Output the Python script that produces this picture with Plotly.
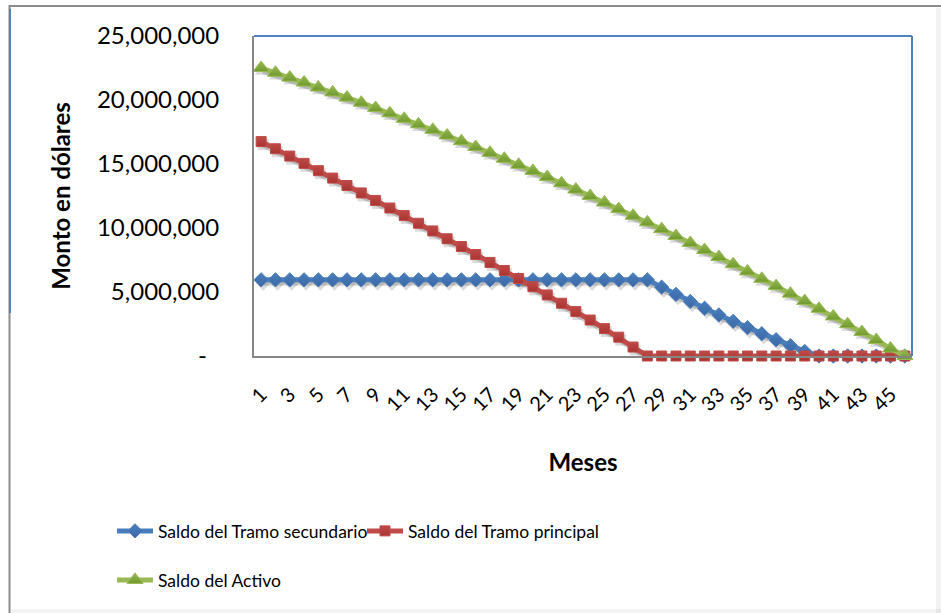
import plotly.graph_objects as go

# Saldos mensuales en millones de dólares
meses = list(range(1, 47))

tramo_secundario = [
    5.95, 5.95, 5.95, 5.95, 5.95, 5.95, 5.95, 5.95, 5.95, 5.95,
    5.95, 5.95, 5.95, 5.95, 5.95, 5.95, 5.95, 5.95, 5.95, 5.95,
    5.95, 5.95, 5.95, 5.95, 5.95, 5.95, 5.95, 5.95, 5.38, 4.81,
    4.26, 3.73, 3.21, 2.71, 2.22, 1.74, 1.27, 0.81, 0.36, 0.00,
    0.00, 0.00, 0.00, 0.00, 0.00, 0.00,
]
tramo_principal = [
    16.75, 16.19, 15.62, 15.05, 14.48, 13.90, 13.32, 12.74, 12.15, 11.56,
    10.97, 10.37, 9.77, 9.16, 8.55, 7.93, 7.31, 6.68, 6.05, 5.41,
    4.77, 4.12, 3.47, 2.81, 2.14, 1.47, 0.70, 0.00, 0.00, 0.00,
    0.00, 0.00, 0.00, 0.00, 0.00, 0.00, 0.00, 0.00, 0.00, 0.00,
    0.00, 0.00, 0.00, 0.00, 0.00, 0.00,
]
activo = [
    22.50, 22.13, 21.75, 21.37, 20.98, 20.59, 20.19, 19.79, 19.37, 18.96,
    18.53, 18.10, 17.67, 17.23, 16.78, 16.33, 15.87, 15.41, 14.94, 14.46,
    13.98, 13.49, 13.00, 12.50, 11.99, 11.48, 10.96, 10.44, 9.91, 9.37,
    8.83, 8.28, 7.73, 7.17, 6.61, 6.03, 5.46, 4.87, 4.29, 3.69,
    3.09, 2.48, 1.87, 1.25, 0.58, 0.00,
]

MILLON = 1_000_000
tick_meses = meses[::2]
tick_montos = [0, 5, 10, 15, 20, 25]
tick_montos_txt = ["-\u00a0\u00a0", "5,000,000", "10,000,000", "15,000,000",
                   "20,000,000", "25,000,000"]

series = [
    ("Saldo del Tramo secundario", tramo_secundario, "#4A7EBB", "diamond", 11, "#3A68A6", "legend"),
    ("Saldo del Tramo principal", tramo_principal, "#BE4B48", "square", 10, "#A93431", "legend"),
    ("Saldo del Activo", activo, "#98B954", "triangle-up", 14, "#6F9A2C", "legend2"),
]

# Figure geometry (pixels)
W, H = 941, 613
L, R, T, B = 254, 29, 36, 257
PW, PH = W - L - R, H - T - B
X0, X1 = 0.5, 46.5
Y0, Y1 = 0, 25 * MILLON
SH_DX, SH_DY = 2.0, 3.0  # drop-shadow offset in px
dx = SH_DX * (X1 - X0) / PW
dy = SH_DY * (Y1 - Y0) / PH

fig = go.Figure()

# soft drop shadows under every series (drawn on the shifted base axes)
for name, vals, color, sym, size, dark, lg in series:
    fig.add_trace(go.Scatter(
        x=meses, y=[v * MILLON for v in vals], mode="lines+markers",
        line=dict(color="rgba(0,0,0,0.16)", width=6),
        marker=dict(symbol=sym, size=size + 1, color="rgba(0,0,0,0.14)", line=dict(width=0)),
        showlegend=False, hoverinfo="skip", cliponaxis=False,
        xaxis="x", yaxis="y",
    ))

for name, vals, color, sym, size, dark, lg in series:
    fig.add_trace(go.Scatter(
        x=meses, y=[v * MILLON for v in vals], mode="lines+markers", name=name,
        line=dict(color=color, width=5),
        marker=dict(symbol=sym, size=size, color=color,
                    gradient=dict(type="vertical", color=dark),
                    line=dict(color=color, width=1)),
        cliponaxis=False, legend=lg,
        xaxis="x2", yaxis="y2",
    ))


def px_x(p):
    return (p - L) / PW


def px_y(p):
    return (H - B - p) / PH


shapes = [
    # plot-area top and right edges
    dict(type="line", xref="paper", yref="paper", x0=0, x1=1, y0=1, y1=1,
         line=dict(color="#4F81BD", width=2)),
    dict(type="line", xref="paper", yref="paper", x0=1, x1=1, y0=0, y1=1,
         line=dict(color="#4F81BD", width=2)),
    # outer chart frame
    dict(type="line", xref="paper", yref="paper", x0=px_x(9), x1=px_x(941),
         y0=px_y(6), y1=px_y(6), line=dict(color="#8C8C8C", width=2)),
    dict(type="line", xref="paper", yref="paper", x0=px_x(9.5), x1=px_x(9.5),
         y0=px_y(5), y1=px_y(613), line=dict(color="#8C8C8C", width=2)),
    dict(type="line", xref="paper", yref="paper", x0=px_x(10), x1=px_x(10),
         y0=px_y(9), y1=px_y(313), line=dict(color="#4F81BD", width=2)),
    dict(type="rect", xref="paper", yref="paper", x0=px_x(936), x1=px_x(941),
         y0=px_y(8), y1=px_y(613), fillcolor="rgba(0,0,0,0.05)", line=dict(width=0)),
    dict(type="rect", xref="paper", yref="paper", x0=px_x(11), x1=px_x(941),
         y0=px_y(609), y1=px_y(613), fillcolor="rgba(0,0,0,0.05)", line=dict(width=0)),
]

legend_font = dict(family="Lato", size=17.5)

fig.update_layout(
    width=W, height=H,
    margin=dict(l=L, r=R, t=T, b=B),
    paper_bgcolor="white", plot_bgcolor="white",
    font=dict(family="Lato", color="black"),
    shapes=shapes,
    xaxis=dict(range=[X0 - dx, X1 - dx], visible=False, fixedrange=True),
    yaxis=dict(range=[Y0 + dy, Y1 + dy], visible=False, fixedrange=True),
    xaxis2=dict(
        overlaying="x", anchor="y2", side="bottom",
        range=[X0, X1], tickmode="array", tickvals=tick_meses,
        ticktext=[str(m) for m in tick_meses], tickangle=-45,
        tickfont=dict(family="Lato", size=20), ticklabelstandoff=17,
        showgrid=False, zeroline=False, ticks="",
        showline=True, linecolor="#868686", linewidth=2,
        title=dict(text="<b>Meses</b>", font=dict(family="Lato", size=24), standoff=40),
    ),
    yaxis2=dict(
        overlaying="y", anchor="x2", side="left",
        range=[Y0, Y1], tickmode="array", tickvals=[v * MILLON for v in tick_montos],
        ticktext=tick_montos_txt,
        tickfont=dict(family="Lato", size=24), ticklabelstandoff=28,
        showgrid=False, zeroline=False, ticks="",
        showline=True, linecolor="#868686", linewidth=2,
        title=dict(text="<b>Monto en dólares</b>", font=dict(family="Lato", size=24), standoff=20),
    ),
    legend=dict(
        orientation="h", xref="container", yref="container",
        x=112 / W, y=1 - 513 / H, xanchor="left", yanchor="top",
        entrywidth=199, itemwidth=36, font=legend_font,
        bgcolor="rgba(0,0,0,0)", traceorder="normal",
    ),
    legend2=dict(
        orientation="h", xref="container", yref="container",
        x=112 / W, y=1 - 562 / H, xanchor="left", yanchor="top",
        itemwidth=36, font=legend_font,
        bgcolor="rgba(0,0,0,0)",
    ),
)

fig.write_html("out.html")
